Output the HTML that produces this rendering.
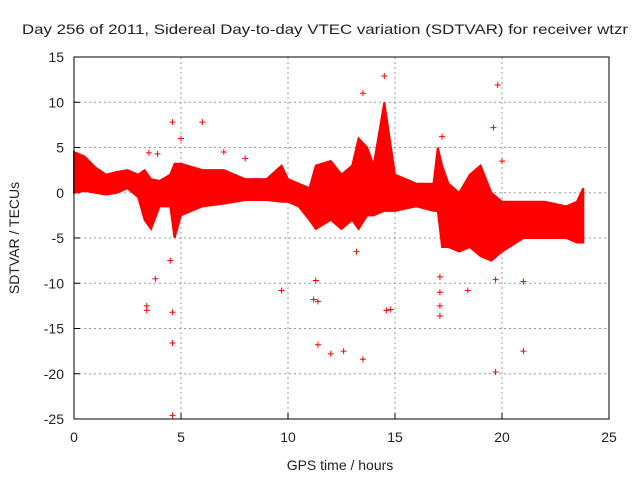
<!DOCTYPE html>
<html><head><meta charset="utf-8"><style>
body{margin:0;background:#fff;font-family:"Liberation Sans",sans-serif}
svg text{font-family:"Liberation Sans",sans-serif;font-size:14px;fill:#222}
</style></head><body>
<svg id="c" width="640" height="480"></svg>
<script>
const xTicks=[0,5,10,15,20,25];
const yTicks=[15,10,5,0,-5,-10,-15,-20,-25];
const bandT=[0,0.5,1,1.5,2,2.5,3,3.3,3.6,4,4.5,4.7,5,6,7,8,9,9.7,10,10.5,11,11.3,12,12.5,13,13.3,13.7,14,14.5,15,16,16.8,17,17.2,17.5,18,18.5,19,19.5,20,21,22,23,23.5,23.8];
const bandUpper=[4.5,4,2.8,2,2.3,2.5,2,2.5,1.5,1.3,2,3.2,3.2,2.5,2.5,1.5,1.5,3,1.5,1,0.5,3,3.5,2,3,6,5,3,10,2,1,1,5,3,1,0,2,3,0,-1,-1,-1,-1.5,-1,0.5];
const bandLower=[0,0.2,0,-0.2,0,0.5,-0.5,-3,-4,-1.5,-1.5,-5,-2.5,-1.5,-1.2,-0.8,-0.8,-1,-1,-1.5,-3,-4,-3,-4,-3,-4,-2.5,-2.5,-2,-2,-1.5,-2,-2,-6,-6,-6.5,-6,-7,-7.5,-6.5,-5,-5,-5,-5.5,-5.5];
const outT=[3.4,3.4,3.8,3.5,3.9,4.6,4.6,4.6,4.6,4.5,5,6,7,8,9.7,11.2,11.4,11.4,11.3,12,12.6,13.2,13.5,13.5,14.5,14.6,14.8,17.1,17.1,17.1,17.1,17.2,18.4,19.6,19.8,19.7,19.7,20,21,21];
const outV=[-13,-12.5,-9.5,4.4,4.3,7.8,-13.2,-16.6,-24.6,-7.5,6,7.8,4.5,3.8,-10.8,-11.8,-12,-16.8,-9.7,-17.8,-17.5,-6.5,-18.4,11,12.9,-13,-12.9,-9.3,-11,-12.5,-13.6,6.2,-10.8,7.2,11.9,-9.6,-19.8,3.5,-9.8,-17.5];
const L=74,R=609,T=57,B=419;
const X=v=>L+(v-0)/25*(R-L), Y=v=>T+(15-v)/40*(B-T);
const s=document.getElementById('c'),NS='http://www.w3.org/2000/svg';
function mk(tag,a,p){const e=document.createElementNS(NS,tag);for(const k in a)e.setAttribute(k,a[k]);(p||s).appendChild(e);return e;}
const g=mk('g',{});


xTicks.forEach(t=>{if(t>0&&t<25)mk('line',{x1:X(t),x2:X(t),y1:T,y2:B,stroke:'#999','stroke-dasharray':'2,3'},g);
const tx=mk('text',{x:X(t),y:B+23,'text-anchor':'middle'});tx.textContent=t;


mk('line',{x1:X(t),x2:X(t),y1:B,y2:B-6,stroke:'#000'});});
yTicks.forEach(t=>{if(t<15&&t>-25)mk('line',{x1:L,x2:R,y1:Y(t),y2:Y(t),stroke:'#999','stroke-dasharray':'2,3'},g);
const tx=mk('text',{x:L-10,y:Y(t)+5,'text-anchor':'end'});tx.textContent=t;


mk('line',{x1:L,x2:L+6,y1:Y(t),y2:Y(t),stroke:'#000'});});
let d='M'+bandT.map((t,i)=>X(t)+','+Y(bandUpper[i])).join('L');
for(let i=bandT.length-1;i>=0;i--)d+='L'+X(bandT[i])+','+Y(bandLower[i]);
const band=mk('path',{d:d+'Z',fill:'#f00',stroke:'#f00','stroke-width':2});


outT.forEach((t,i)=>{const x=X(t),y=Y(outV[i]);
const p=mk('path',{d:`M${x-3},${y}H${x+3}M${x},${y-3}V${y+3}`,stroke:'#f00','stroke-width':1});

});
const fr=mk('rect',{x:L,y:T,width:R-L,height:B-T,fill:'none',stroke:'#000'});


const ti=mk('text',{x:22,y:34,textLength:606,lengthAdjust:'spacingAndGlyphs'});ti.textContent='Day 256 of 2011, Sidereal Day-to-day VTEC variation (SDTVAR) for receiver wtzr';


const xt=mk('text',{x:340,y:470,'text-anchor':'middle'});xt.textContent='GPS time / hours';


const yt=mk('text',{x:19,y:238,'text-anchor':'middle',transform:'rotate(-90 19 238)'});yt.textContent='SDTVAR / TECUs';


</script>
</body></html>
